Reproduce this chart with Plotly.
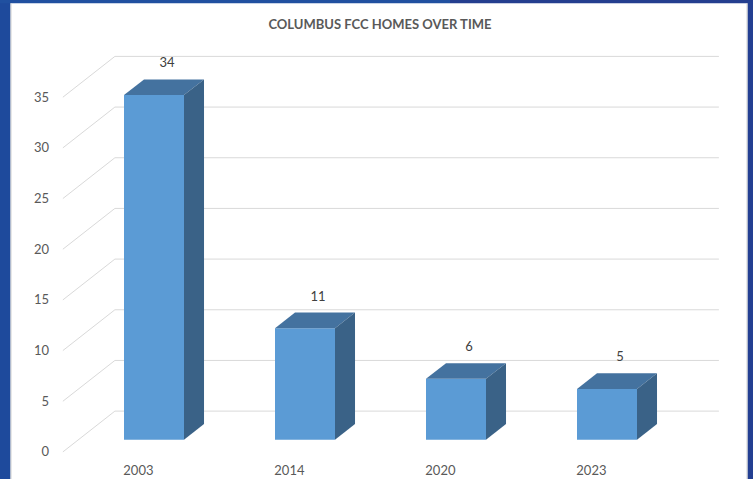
import plotly.graph_objects as go

# ---- data ----
categories = ["2003", "2014", "2020", "2023"]
homes = [34, 11, 6, 5]
y_ticks = [0, 5, 10, 15, 20, 25, 30, 35]
title_text = "COLUMBUS FCC HOMES OVER TIME"

# ---- geometry (oblique 3D projection in data units) ----
W, H_REF = 753, 479
H = 489                                # rendered height (output is squeezed to 479)
SY = H / H_REF
L, R, T, B = 58, 725, 40, 448          # plot area in reference pixels
PX_PER_X = 151.0                       # px per category
PX_PER_Y = 9.94                        # px per unit value (reference)
X0_PX, Y0_PX = 138.4, 443.0            # pixel of (cat 0, value 0) at front plane
DX = 52.0 / PX_PER_X                   # full-depth shift in x units
DY = 40.0 / PX_PER_Y                   # full-depth shift in y units
BAR_FRONT = 0.30                       # bar front depth fraction
BAR_DEPTH = 0.385                      # bar depth fraction
BAR_W = 60.0 / PX_PER_X
X_STANDOFF = 4

xr = [(L - X0_PX) / PX_PER_X, (R - X0_PX) / PX_PER_X]
yr = [(Y0_PX - B) / PX_PER_Y, (Y0_PX - T) / PX_PER_Y]

xs = list(range(len(categories)))

front_col = "#5B9BD5"
top_col = "#44729F"
side_col = "#3A6287"
grid_col = "#D9D9D9"
text_col = "#595959"
FONT = "Lato"

fig = go.Figure()

# front faces
fx = [x + BAR_FRONT * DX for x in xs]
fb = BAR_FRONT * DY
fig.add_trace(go.Bar(
    x=fx, y=homes, base=[fb] * len(homes), width=BAR_W,
    marker=dict(color=front_col, line=dict(width=0)),
    hoverinfo="skip", showlegend=False,
))

bdx = BAR_DEPTH * DX
bdy = BAR_DEPTH * DY
for x, v in zip(fx, homes):
    xl, xrt = x - BAR_W / 2, x + BAR_W / 2
    top = v + fb
    # top face
    fig.add_trace(go.Scatter(
        x=[xl, xrt, xrt + bdx, xl + bdx, xl],
        y=[top, top, top + bdy, top + bdy, top],
        fill="toself", fillcolor=top_col, mode="lines",
        line=dict(width=0, color=top_col), hoverinfo="skip", showlegend=False,
    ))
    # side face
    fig.add_trace(go.Scatter(
        x=[xrt, xrt, xrt + bdx, xrt + bdx, xrt],
        y=[fb, top, top + bdy, fb + bdy, fb],
        fill="toself", fillcolor=side_col, mode="lines",
        line=dict(width=0, color=side_col), hoverinfo="skip", showlegend=False,
    ))

# data labels
fig.add_trace(go.Scatter(
    x=[x + 0.19 for x in xs], y=[v + 4.25 for v in homes],
    text=[str(v) for v in homes], mode="text",
    textfont=dict(family=FONT, size=13, color="#404040"),
    hoverinfo="skip", showlegend=False,
))

# gridlines: back wall + left wall
shapes = []
for t in y_ticks:
    shapes.append(dict(type="line", xref="x", yref="y", layer="below",
                       x0=-0.5 + DX, x1=len(categories) - 0.5 + DX,
                       y0=t + DY, y1=t + DY,
                       line=dict(color=grid_col, width=1)))
    shapes.append(dict(type="line", xref="x", yref="y", layer="below",
                       x0=-0.5, x1=-0.5 + DX, y0=t, y1=t + DY,
                       line=dict(color=grid_col, width=1)))

# frame (reference pixel coords -> paper coords)
def px_x(p):
    return (p - L) / (R - L)

def px_y(p):
    return (B - p) / (B - T)

frame = [
    (0, 10.5, 0, H_REF + 12, "#1E4A9C"),
    (0, 450, -2, 3, "#2050A0"),
    (450, W, -2, 3, "#243E8F"),
    (747.5, W + 2, 0, H_REF + 12, "#233F92"),
]
for x0, x1, y0, y1, c in frame:
    shapes.append(dict(type="rect", xref="paper", yref="paper", layer="above",
                       x0=px_x(x0), x1=px_x(x1), y0=px_y(y1), y1=px_y(y0),
                       fillcolor=c, line=dict(width=0)))
for xp in (11, 747):
    shapes.append(dict(type="line", xref="paper", yref="paper", layer="above",
                       x0=px_x(xp), x1=px_x(xp), y0=px_y(H_REF + 12), y1=px_y(3),
                       line=dict(color="#D0D0D0", width=1)))

fig.update_layout(
    width=W, height=H,
    margin=dict(l=L, r=W - R, t=T * SY, b=(H_REF - B) * SY),
    paper_bgcolor="white", plot_bgcolor="white",
    title=dict(text="<b>" + title_text + "</b>", x=380 / W, xanchor="center",
               y=1 - 24 / H_REF, yanchor="middle", xref="container", yref="container",
               font=dict(family=FONT, size=13, color=text_col)),
    xaxis=dict(range=xr, tickvals=xs, ticktext=categories, showgrid=False,
               zeroline=False, showline=False, ticks="",
               ticklabelstandoff=round(X_STANDOFF * SY),
               tickfont=dict(family=FONT, size=13, color=text_col), fixedrange=True),
    yaxis=dict(range=yr, tickvals=y_ticks, showgrid=False, zeroline=False,
               showline=False, ticks="", ticklabelstandoff=8,
               tickfont=dict(family=FONT, size=13, color=text_col), fixedrange=True),
    shapes=shapes,
    showlegend=False,
    hovermode=False,
)

post = """
var d = document.querySelector('.plotly-graph-div');
document.body.style.margin = '0';
d.style.position = 'fixed'; d.style.left = '0px'; d.style.top = '0px';
"""

fig.write_html("out.html", config={"displayModeBar": False}, post_script=post)
